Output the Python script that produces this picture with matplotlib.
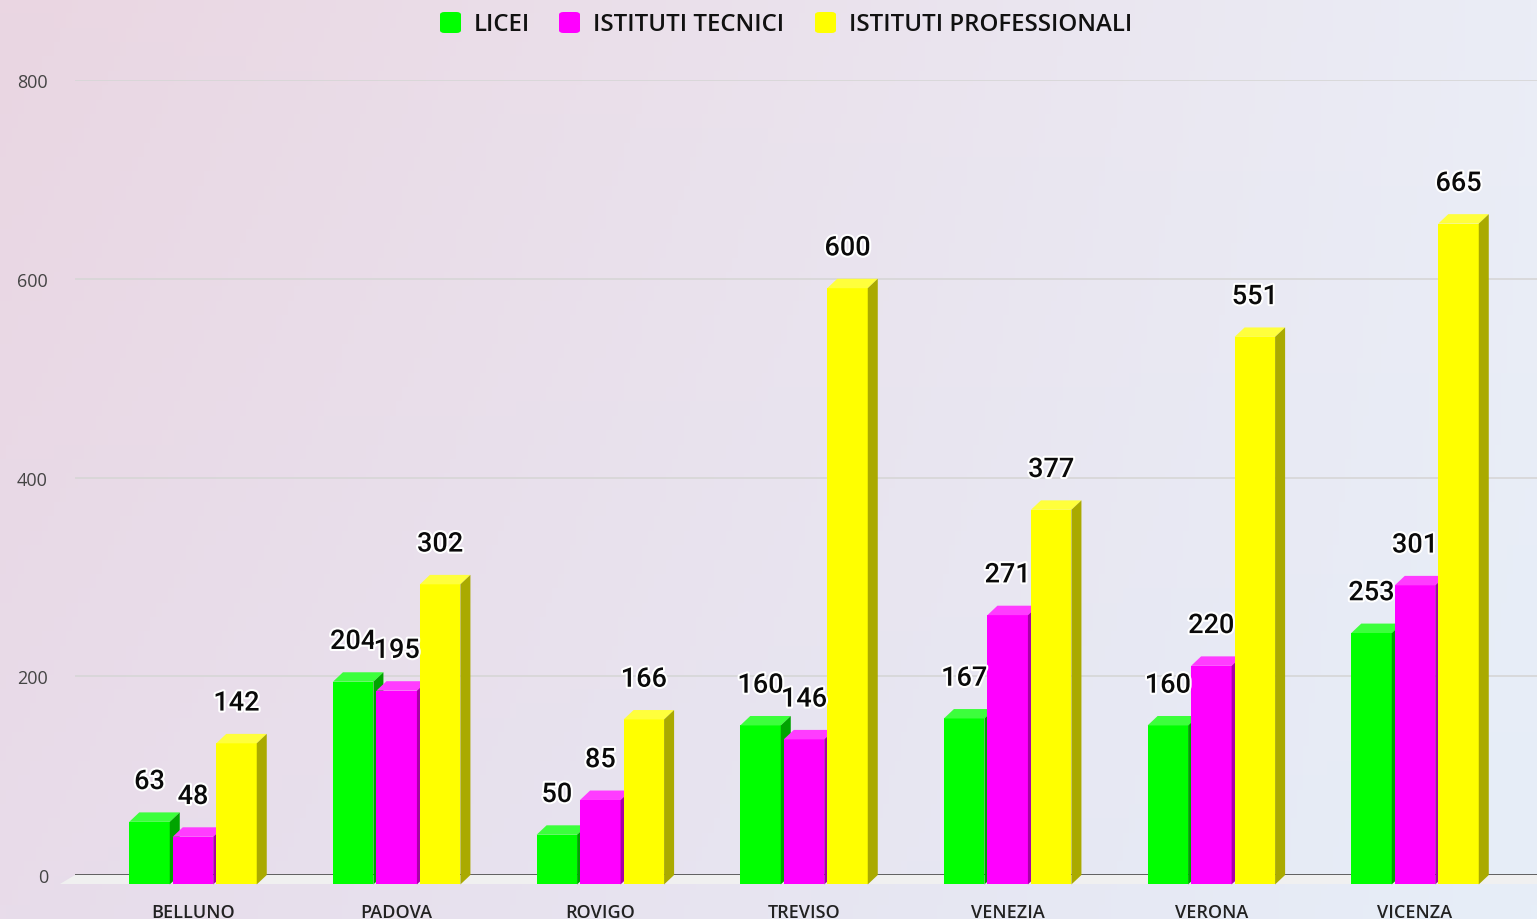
import matplotlib.pyplot as plt
import matplotlib.patheffects as pe
from matplotlib.patches import Polygon, FancyBboxPatch
import numpy as np

# data
province = ['BELLUNO', 'PADOVA', 'ROVIGO', 'TREVISO', 'VENEZIA', 'VERONA', 'VICENZA']
licei = [63, 204, 50, 160, 167, 160, 253]
tecnici = [48, 195, 85, 146, 271, 220, 301]
professionali = [142, 302, 166, 600, 377, 551, 665]
series_names = ['LICEI', 'ISTITUTI TECNICI', 'ISTITUTI PROFESSIONALI']
yticks = [0, 200, 400, 600, 800]

front = ['#00ff00', '#ff00ff', '#ffff00']
top = ['#3cff3c', '#ff3cff', '#ffff3c']
side = ['#00a400', '#a800a8', '#aaaa00']

W, H = 1537, 920
fig = plt.figure(figsize=(W / 100, H / 100), dpi=100)

# background gradient
bg = fig.add_axes([0, 0, 1, 1], zorder=-10)
gx = np.linspace(0, 1, 256)
gy = np.linspace(0, 1, 64)
X, Y = np.meshgrid(gx, gy)
tl = np.array([234, 214, 226]) / 255
tr = np.array([235, 237, 246]) / 255
bl = np.array([232, 220, 234]) / 255
br = np.array([230, 238, 248]) / 255
img = ((1 - X)[..., None] * ((1 - Y)[..., None] * tl + Y[..., None] * bl)
       + X[..., None] * ((1 - Y)[..., None] * tr + Y[..., None] * br))
bg.imshow(img, aspect='auto', extent=[0, 1, 0, 1])
bg.axis('off')

# plot area: y=0 at 876px, y=800 at 81px, x from 75px to right edge
px_per_cat = 203.67
first_center = 193.0
left_px = 75
ax = fig.add_axes([left_px / W, (H - 876) / H, 1 - left_px / W, 795 / H])
ax.patch.set_alpha(0)
ax.set_ylim(0, 800)
ax.set_xlim((left_px - first_center) / px_per_cat, (W - first_center) / px_per_cat)
for s in ax.spines.values():
    s.set_visible(False)

for v in yticks[1:]:
    ax.axhline(v, color='#d6d6d6', lw=1.2, zorder=1)

# floor
xl0, xl1 = ax.get_xlim()
dx = 10 / px_per_cat
dy = 9.5
floor = Polygon([[xl0, 0], [xl1 + 1, 0], [xl1 + 1, -dy], [xl0 - 1.5 * dx, -dy]],
                closed=True, facecolor='#f0f0f0', edgecolor='none', clip_on=False, zorder=1)
ax.add_patch(floor)
ax.axhline(0, color='#555555', lw=1.3, zorder=2)

bw = 40.5 / px_per_cat
pitch = 43.5 / px_per_cat
x = np.arange(len(province))
halo = [pe.withStroke(linewidth=3, foreground='white')]
for k, vals in enumerate([licei, tecnici, professionali]):
    off = (k - 1) * pitch
    for i, v in enumerate(vals):
        x0 = x[i] + off - bw / 2
        x1 = x0 + bw
        ax.add_patch(Polygon([[x0, -dy], [x1, -dy], [x1, v - dy], [x0, v - dy]],
                             facecolor=front[k], edgecolor='none', clip_on=False, zorder=3 + k))
        ax.add_patch(Polygon([[x0, v - dy], [x1, v - dy], [x1 + dx, v], [x0 + dx, v]],
                             facecolor=top[k], edgecolor='none', clip_on=False, zorder=3 + k))
        ax.add_patch(Polygon([[x1, -dy], [x1 + dx, 0], [x1 + dx, v], [x1, v - dy]],
                             facecolor=side[k], edgecolor='none', clip_on=False, zorder=3 + k))
        ax.text(x0 + bw / 2, v + 31, str(v), ha='center', va='center', fontsize=19.5,
                family='Roboto', fontweight='medium', color='#0a0a0a',
                path_effects=halo, zorder=10 + k)

ax.set_yticks(yticks)
ax.set_yticklabels([str(t) for t in yticks], fontsize=13, family='Open Sans', color='#444444')
ax.tick_params(axis='y', length=0, pad=19.5)
ax.set_xticks(x)
ax.set_xticklabels(province, fontsize=13, family='Open Sans', fontweight='semibold', color='#222222')
ax.tick_params(axis='x', length=0, pad=20)

# legend at top
leg_items = [(440, series_names[0]), (559, series_names[1]), (815, series_names[2])]
for k, (px, name) in enumerate(leg_items):
    fig.patches.append(FancyBboxPatch((px / W, (H - 34) / H), 21 / W, 21 / H,
                                      boxstyle='round,pad=0,rounding_size=0.003',
                                      transform=fig.transFigure, facecolor=front[k],
                                      edgecolor='none'))
    fig.text((px + 34) / W, (H - 25) / H, name, ha='left', va='center', fontsize=17.3,
             family='Open Sans', fontweight='semibold', color='#111111')

fig.savefig('out.png', dpi=100)
